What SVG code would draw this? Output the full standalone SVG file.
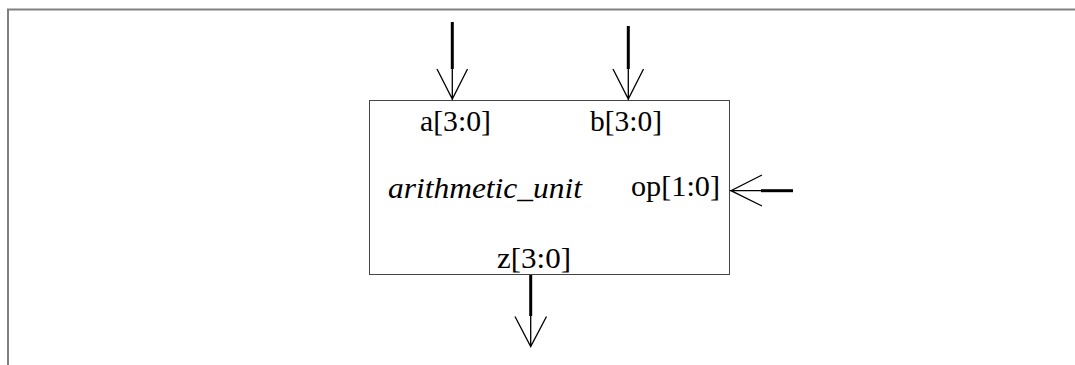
<svg xmlns="http://www.w3.org/2000/svg" width="1075" height="365" viewBox="0 0 1075 365">
<style>
.frame{fill:none;stroke:#808080;stroke-width:2}
.box{fill:#fff;stroke:#444;stroke-width:1}
.lbl{font-family:"Liberation Serif","Times New Roman",serif;font-size:30px;fill:#000}
.it{font-style:italic}
.shaft{stroke:#000;stroke-width:3;fill:none}
.thin{stroke:#000;stroke-width:1.3;fill:none}
</style>
<rect width="1075" height="365" fill="#fff"/>
<path class="frame" d="M8,366 V9.5 H1076"/>
<g id="arithmetic_unit">
<rect class="box" x="369.5" y="100.5" width="360" height="174"/>
<text class="lbl it" x="388" y="198" textLength="194" lengthAdjust="spacingAndGlyphs">arithmetic_unit</text>
<text class="lbl" x="420" y="131" textLength="71" lengthAdjust="spacingAndGlyphs">a[3:0]</text>
<text class="lbl" x="590" y="131" textLength="72" lengthAdjust="spacingAndGlyphs">b[3:0]</text>
<text class="lbl" x="631" y="196" textLength="89" lengthAdjust="spacingAndGlyphs">op[1:0]</text>
<text class="lbl" x="497" y="268" textLength="74" lengthAdjust="spacingAndGlyphs">z[3:0]</text>
</g>
<g id="connectors">
<g id="a_in">
<path class="shaft" d="M452.3,22 V69"/>
<path class="thin" d="M452.3,69 V100 M437,69 L452.3,99 L467.5,69"/>
</g>
<g id="b_in">
<path class="shaft" d="M628.3,26 V69"/>
<path class="thin" d="M628.3,69 V100 M613,69 L628.3,99 L643.5,69"/>
</g>
<g id="op_in">
<path class="shaft" d="M793,190.7 H761"/>
<path class="thin" d="M761,190.7 H730 M762,175 L731,190.7 L762,206"/>
</g>
<g id="z_out">
<path class="shaft" d="M530.7,275 V316"/>
<path class="thin" d="M530.7,316 V346 M515,316.5 L530.7,346.5 L546.5,316.5"/>
</g>
</g>
</svg>
